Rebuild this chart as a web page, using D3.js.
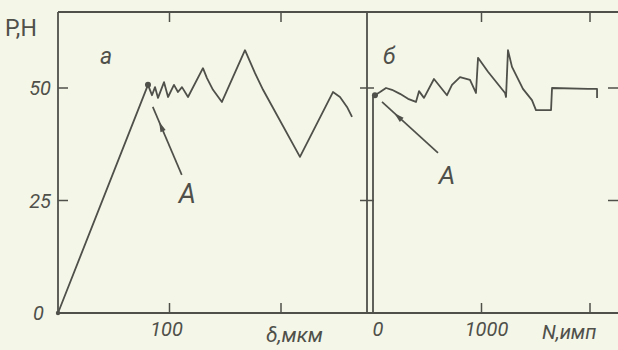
<!DOCTYPE html>
<html>
<head>
<meta charset="utf-8">
<script src="https://cdn.jsdelivr.net/npm/d3@7"></script>
<style>
  html, body { margin: 0; padding: 0; background: #f4f6e8; }
  svg text { font-family: Roboto, 'DejaVu Sans', sans-serif; font-style: italic; font-weight: 400; fill: #4f504a; }
</style>
</head>
<body>
<div id="chart"></div>
<script>
// panel a: load P (H) vs displacement δ (мкм)
const deltaValues = [0, 80.7, 84.3, 87, 89.7, 95.1, 98.7, 104, 107.6, 111.2, 116.6, 130, 133.6, 139, 147, 167.7, 176.7, 183.9, 217, 246.6, 252.9, 259.2, 263.7]
const loadA = [0, 50.7, 48.4, 50.2, 47.8, 51.3, 48, 50.7, 49.1, 50.2, 48, 54.4, 52.2, 49.6, 46.9, 58.4, 53.3, 49.6, 34.7, 49.1, 48, 45.8, 43.6]

// panel б: load P (H) vs number of pulses N
const pulseValues = [0, 0, 18, 65, 120, 175, 249, 323, 396, 424, 470, 562, 682, 728, 802, 894, 949, 968, 1060, 1217, 1226, 1244, 1281, 1382, 1465, 1502, 1641, 1650, 1982, 2065, 2065]
const loadB = [0, 48, 48.4, 49.1, 50, 49.6, 48.7, 47.6, 46.9, 49.3, 47.8, 52, 48.4, 50.7, 52.4, 51.8, 48.9, 56.7, 53.6, 48.9, 48, 58.4, 54.7, 49.8, 47.3, 45.1, 45.1, 50, 49.8, 49.8, 47.8]

const pTicks = [0, 25, 50]
const deltaTicks = [100, 200]
const deltaTickLabels = ['100']
const pulseTicks = [1000, 2000]
const pulseTickLabels = ['0', '1000']

const ink = '#4f504a'
const W = 618, H = 350
const yTop = 12, yBottom = 313
const aLeft = 58, aRight = 367
const bLeft = 373, bRight = 620

const svg = d3.select('#chart').append('svg')
  .attr('width', W).attr('height', H)

svg.append('rect').attr('width', W).attr('height', H).attr('fill', '#f4f6e8')

// scales
const y = d3.scaleLinear().domain([0, 50]).range([yBottom, 88])
const xA = d3.scaleLinear().domain([0, 200]).range([aLeft, aLeft + 223])
const xB = d3.scaleLinear().domain([0, 2000]).range([bLeft, bLeft + 217])

// frame
svg.append('path')
  .attr('d', `M${aLeft},${yTop} L${bRight},${yTop} M${aLeft},${yBottom} L${bRight},${yBottom} M${aLeft},${yTop} L${aLeft},${yBottom} M${aRight},${yTop} L${aRight},${yBottom} M${bRight},${yTop} L${bRight},${yBottom}`)
  .attr('fill', 'none').attr('stroke', ink).attr('stroke-width', 1.8)

// ticks
const tickG = svg.append('g').attr('stroke', ink).attr('stroke-width', 1.5)
pTicks.filter(d => d > 0).forEach(d => {
  tickG.append('line').attr('x1', aLeft).attr('x2', aLeft + 10).attr('y1', y(d)).attr('y2', y(d))
  tickG.append('line').attr('x1', aRight - 7).attr('x2', bLeft + 1).attr('y1', y(d)).attr('y2', y(d))
  tickG.append('line').attr('x1', bRight - 12).attr('x2', bRight).attr('y1', y(d)).attr('y2', y(d))
})
deltaTicks.forEach(d => {
  tickG.append('line').attr('x1', xA(d)).attr('x2', xA(d)).attr('y1', yTop).attr('y2', yTop + 10)
  tickG.append('line').attr('x1', xA(d)).attr('x2', xA(d)).attr('y1', yBottom).attr('y2', yBottom - 10)
})
pulseTicks.forEach(d => {
  tickG.append('line').attr('x1', xB(d)).attr('x2', xB(d)).attr('y1', yTop).attr('y2', yTop + 10)
  tickG.append('line').attr('x1', xB(d)).attr('x2', xB(d)).attr('y1', yBottom).attr('y2', yBottom - 10)
})

// tick labels
pTicks.forEach(d => {
  svg.append('text').attr('x', d === 0 ? 44 : 51).attr('y', y(d) + 7)
    .attr('text-anchor', 'end').attr('font-size', 20).text(d)
})
deltaTickLabels.forEach(t => {
  svg.append('text').attr('x', xA(+t) - 3).attr('y', 336)
    .attr('text-anchor', 'middle').attr('font-size', 20).text(t)
})
pulseTickLabels.forEach(t => {
  svg.append('text').attr('x', xB(+t) + 5).attr('y', 336)
    .attr('text-anchor', 'middle').attr('font-size', 20).text(t)
})

// axis titles
svg.append('text').attr('x', 5).attr('y', 36).attr('font-size', 23)
  .style('font-style', 'normal').text('Р,Н')
svg.append('text').attr('x', 266).attr('y', 342).attr('font-size', 21).text('δ,мкм')
svg.append('text').attr('x', 542).attr('y', 339).attr('font-size', 20).text('N,имп')

// panel letters
svg.append('text').attr('x', 100).attr('y', 64).attr('font-size', 23).text('а')
svg.append('text').attr('x', 383).attr('y', 64).attr('font-size', 23).text('б')

// curves
const lineA = d3.line().x((d, i) => xA(deltaValues[i])).y((d, i) => y(loadA[i]))
const lineB = d3.line().x((d, i) => xB(pulseValues[i])).y((d, i) => y(loadB[i]))

svg.append('path').attr('d', lineA(loadA))
  .attr('fill', 'none').attr('stroke', ink).attr('stroke-width', 1.8).attr('stroke-linejoin', 'round')
svg.append('path').attr('d', lineB(loadB))
  .attr('fill', 'none').attr('stroke', ink).attr('stroke-width', 1.8).attr('stroke-linejoin', 'round')

// point A markers
svg.append('circle').attr('cx', xA(deltaValues[1])).attr('cy', y(loadA[1])).attr('r', 3).attr('fill', ink)
svg.append('circle').attr('cx', xB(pulseValues[2])).attr('cy', y(loadB[2])).attr('r', 3).attr('fill', ink)
svg.append('circle').attr('cx', xA(0)).attr('cy', y(0)).attr('r', 2.2).attr('fill', ink)

// arrows pointing to A
const arrow = (x1, y1, x2, y2) => {
  svg.append('line').attr('x1', x1).attr('y1', y1).attr('x2', x2).attr('y2', y2)
    .attr('stroke', ink).attr('stroke-width', 1.7)
  const ang = Math.atan2(y2 - y1, x2 - x1)
  const hx = x1 + (x2 - x1) * 0.78, hy = y1 + (y2 - y1) * 0.78
  const len = 10, wid = 2.8
  const bx = hx - Math.cos(ang) * len, by = hy - Math.sin(ang) * len
  svg.append('path')
    .attr('d', `M${hx},${hy} L${bx - Math.sin(ang) * wid},${by + Math.cos(ang) * wid} L${bx + Math.sin(ang) * wid},${by - Math.cos(ang) * wid} Z`)
    .attr('fill', ink)
}
arrow(xA(111), y(30.7), xA(85), y(45.8))
arrow(xB(599), y(35.6), xB(83), y(46.9))

svg.append('text').attr('x', xA(116)).attr('y', y(26.7) + 10).attr('text-anchor', 'middle').attr('font-size', 27).text('А')
svg.append('text').attr('x', xB(682)).attr('y', y(31) + 10).attr('text-anchor', 'middle').attr('font-size', 26).text('А')
</script>
</body>
</html>
